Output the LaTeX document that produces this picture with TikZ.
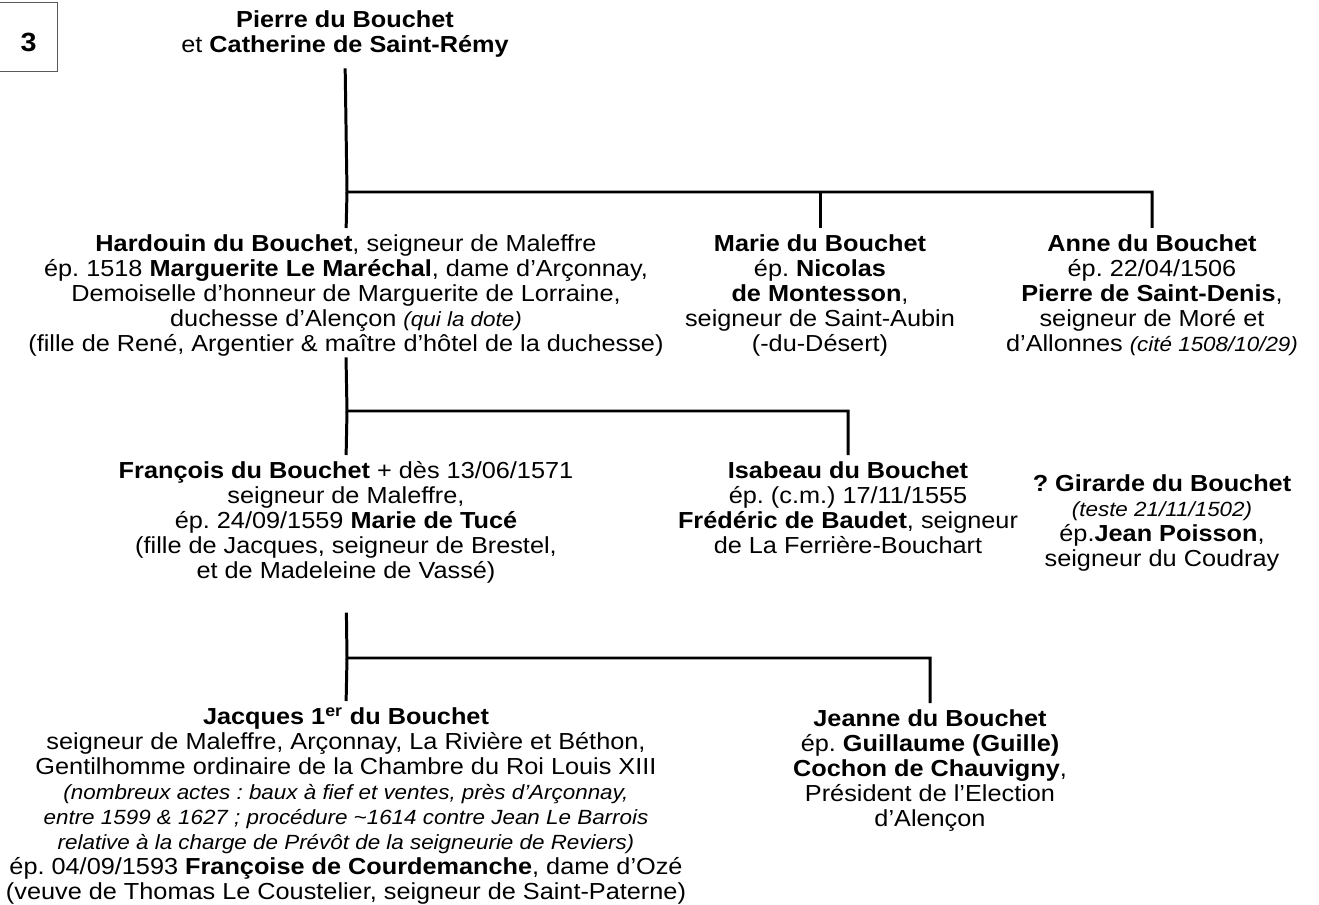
\documentclass[tikz,border=0pt]{standalone}
\usepackage{fontspec}
\setmainfont{Liberation Sans}[FakeStretch=1.09]
\usetikzlibrary{positioning}
\frenchspacing

\newcommand{\persfont}{\fontsize{13.2}{14.23}\selectfont\lineskiplimit=-20pt}
\newcommand{\noteit}[1]{{\fontsize{11.7}{14.23}\selectfont\itshape #1}}

\tikzset{
  person/.style={align=center, inner sep=0pt, anchor=north, font=\persfont,
                 execute at begin node=\rule{0pt}{11pt}},
  tree/.style={line width=1.7pt, shorten >=0.12cm},
}

\begin{document}
\begin{tikzpicture}[x=0.02cm,y=-0.02cm]
    \useasboundingbox (0,0) rectangle (1319,905);

    \node[draw=black!65, line width=0.7pt, anchor=north west, inner sep=0pt,
          minimum width=1.16cm, text height=0.98cm, text depth=0.4cm,
          font=\fontsize{15}{18}\selectfont\bfseries] (num) at (-1,2) {3};

    \node[person] (root) at (345,10) {\textbf{Pierre du Bouchet}\\
        et \textbf{Catherine de Saint-Rémy}};

    % first generation
    \node[person] (hard) at (346,234) {\textbf{Hardouin du Bouchet}, seigneur de Maleffre\\
        ép. 1518 \textbf{Marguerite Le Maréchal}, dame d’Arçonnay,\\
        Demoiselle d’honneur de Marguerite de Lorraine,\\
        duchesse d’Alençon \noteit{(qui la dote)}\\
        (fille de René, Argentier \& maître d’hôtel de la duchesse)};
    \node[person] (marie) at (820,234) {\textbf{Marie du Bouchet}\\
        ép. \textbf{Nicolas}\\
        \textbf{de Montesson},\\
        seigneur de Saint-Aubin\\
        (-du-Désert)};
    \node[person] (anne) at (1152,234) {\textbf{Anne du Bouchet}\\
        ép. 22/04/1506\\
        \textbf{Pierre de Saint-Denis},\\
        seigneur de Moré et\\
        d’Allonnes \noteit{(cité 1508/10/29)}};

    \coordinate (j1) at (347,192);
    \draw[tree, shorten <=0.22cm] (root.south) -- (j1) -| (anne.north);
    \draw[tree] (j1) -- (hard.north);
    \draw[tree] (j1 -| marie.north) -- (marie.north);

    % second generation
    \node[person] (fran) at (346,461) {\textbf{François du Bouchet} + dès 13/06/1571\\
        seigneur de Maleffre,\\
        ép. 24/09/1559 \textbf{Marie de Tucé}\\
        (fille de Jacques, seigneur de Brestel,\\
        et de Madeleine de Vassé)};
    \node[person] (isab) at (848,461) {\textbf{Isabeau du Bouchet}\\
        ép. (c.m.) 17/11/1555\\
        \textbf{Frédéric de Baudet}, seigneur\\
        de La Ferrière-Bouchart};
    \node[person] (gir) at (1162,474) {\textbf{? Girarde du Bouchet}\\
        \noteit{(teste 21/11/1502)}\\
        ép.\textbf{Jean Poisson},\\
        seigneur du Coudray};

    \coordinate (j2) at (347,411);
    \draw[tree, shorten <=0.02cm] (hard.south) -- (j2) -| (isab.north);
    \draw[tree] (j2) -- (fran.north);

    % third generation
    \node[person] (jacq) at (346,707) {\textbf{Jacques 1\textsuperscript{er} du Bouchet}\\
        seigneur de Maleffre, Arçonnay, La Rivière et Béthon,\\
        Gentilhomme ordinaire de la Chambre du Roi Louis XIII\\
        \noteit{(nombreux actes : baux à fief et ventes, près d’Arçonnay,}\\
        \noteit{entre 1599 \& 1627 ; procédure \textasciitilde1614 contre Jean Le Barrois}\\
        \noteit{relative à la charge de Prévôt de la seigneurie de Reviers)}\\
        ép. 04/09/1593 \textbf{Françoise de Courdemanche}, dame d’Ozé\\
        (veuve de Thomas Le Coustelier, seigneur de Saint-Paterne)};
    \node[person] (jean) at (930,709) {\textbf{Jeanne du Bouchet}\\
        ép. \textbf{Guillaume (Guille)}\\
        \textbf{Cochon de Chauvigny},\\
        Président de l’Election\\
        d’Alençon};

    \coordinate (j3) at (347,658);
    \draw[tree, shorten <=0.58cm] (fran.south) -- (j3) -| (jean.north);
    \draw[tree] (j3) -- (jacq.north);
\end{tikzpicture}
\end{document}
